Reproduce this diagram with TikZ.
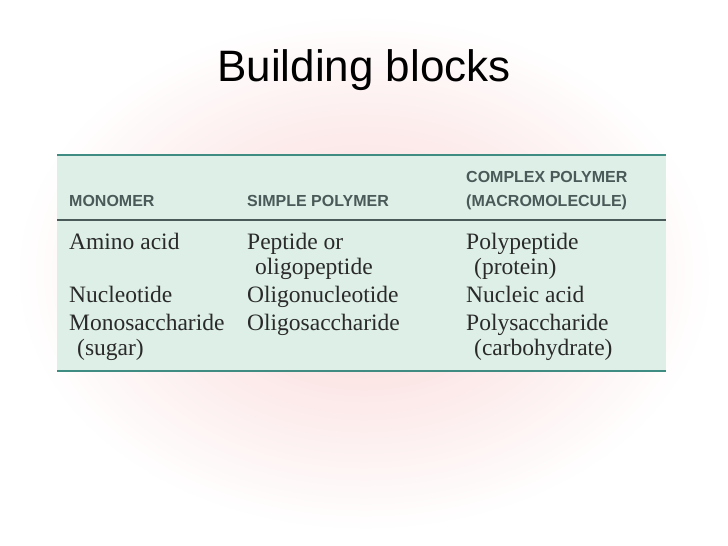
\documentclass[tikz,border=0pt]{standalone}
\usepackage{fontspec}
\setmainfont{Liberation Serif}
\setsansfont{Liberation Sans}
\definecolor{bgpink}{HTML}{FAD4D4}
\definecolor{tabfill}{HTML}{DDEFE7}
\definecolor{teal}{HTML}{3F8C82}
\definecolor{hdr}{HTML}{4A5A58}
\definecolor{txt}{HTML}{2A2A2A}
\begin{document}
\begin{tikzpicture}[x=1pt,y=-1pt,
  cell/.style={anchor=base west,inner sep=0pt,font=\fontsize{23.5}{26}\selectfont,text=txt},
  head/.style={anchor=base west,inner sep=0pt,font=\sffamily\bfseries\fontsize{16}{18}\selectfont,text=hdr}]
\useasboundingbox (0,0) rectangle (728,546);
\fill[white] (0,0) rectangle (728,546);
\shade[inner color=bgpink,outer color=white] (15,15) rectangle (713,531);
\node[inner sep=0pt,font=\sffamily\fontsize{44}{50}\selectfont] (title) at (364,70) {Building blocks};
\fill[tabfill] (57,155) rectangle (666,371);
\draw[teal,line width=2.5pt] (57,155) -- (666,155);
\draw[hdr,line width=2pt] (57,220) -- (666,220);
\draw[teal,line width=2.5pt] (57,371) -- (666,371);
\node[head] (h1) at (69,206) {MONOMER};
\node[head] (h2) at (247,206) {SIMPLE POLYMER};
\node[head] (h3a) at (466,182) {COMPLEX POLYMER};
\node[head] (h3b) at (466,206) {(MACROMOLECULE)};
\node[cell] (a1) at (69,249) {Amino acid};
\node[cell] (b1) at (247,249) {Peptide or};
\node[cell] (b1b) at (255,274) {oligopeptide};
\node[cell] (c1) at (466,249) {Polypeptide};
\node[cell] (c1b) at (474,274) {(protein)};
\node[cell] (a2) at (69,302) {Nucleotide};
\node[cell] (b2) at (247,302) {Oligonucleotide};
\node[cell] (c2) at (466,302) {Nucleic acid};
\node[cell] (a3) at (69,330) {Monosaccharide};
\node[cell] (a3b) at (77,355) {(sugar)};
\node[cell] (b3) at (247,330) {Oligosaccharide};
\node[cell] (c3) at (466,330) {Polysaccharide};
\node[cell] (c3b) at (474,355) {(carbohydrate)};
\end{tikzpicture}
\end{document}
